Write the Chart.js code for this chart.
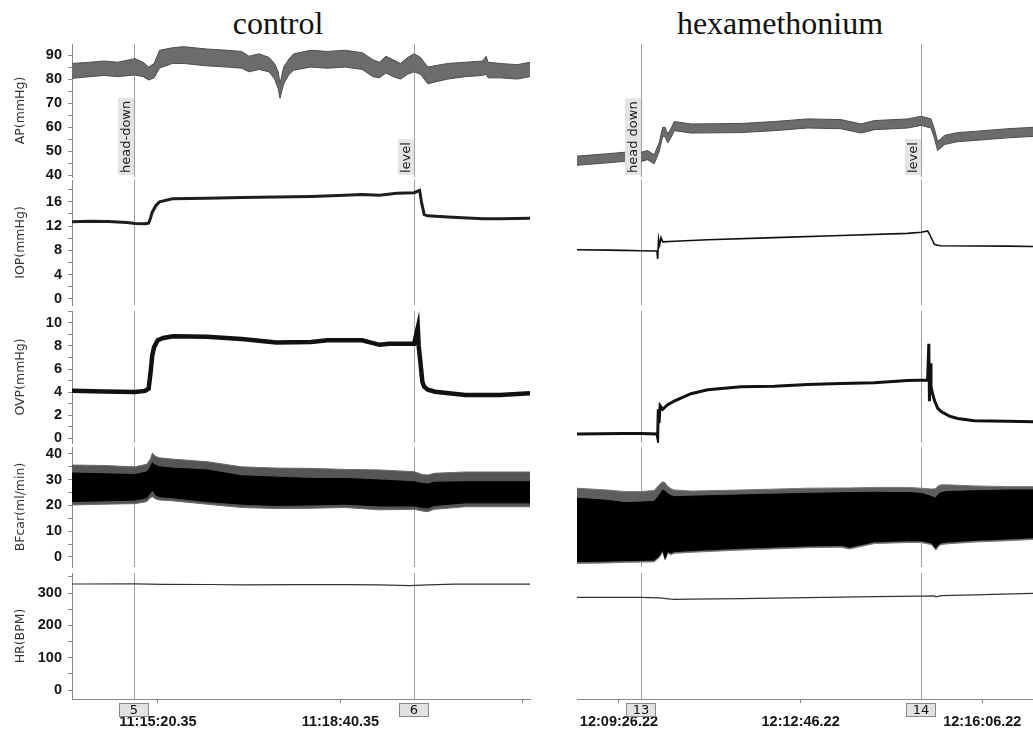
<!DOCTYPE html>
<html>
<head>
<meta charset="utf-8">
<script src="https://cdn.jsdelivr.net/npm/chart.js@4.4.1/dist/chart.umd.min.js"></script>
<style>
  body { margin: 0; background: #fff; width: 1033px; height: 729px; overflow: hidden; position: relative; }
  canvas { position: absolute; }
  .title { position: absolute; top: 7px; font-family: 'Liberation Serif', 'Times New Roman', serif; font-size: 32px; line-height: 32px; color: #111; transform: translateX(-50%); white-space: nowrap; }
</style>
</head>
<body>
<div class="title" style="left:278px">control</div>
<div class="title" style="left:780px">hexamethonium</div>
<script>
// time axis: seconds from the left edge of each panel
const ctrlTicks = [94.2, 294.2, 494.2];
const ctrlTickLabels = ['11:15:20.35', '11:18:40.35', ''];
const hexTicks = [46.2, 246.2, 446.2];
const hexTickLabels = ['12:09:26.22', '12:12:46.22', '12:16:06.22'];

// event markers
const ctrlEvents = [68, 374.8];
const ctrlEventNums = ['5', '6'];
const ctrlEventText = ['head-down', 'level'];
const hexEvents = [70.5, 379];
const hexEventNums = ['13', '14'];
const hexEventText = ['head down', 'level'];

// control: AP band (upper / lower envelope)
const ctrlApT  = [0, 20, 35, 50, 69, 78, 84, 90, 96, 110, 122, 148, 170, 186, 194, 205, 216, 222, 226, 228, 232, 238, 243, 262, 280, 299, 318, 330, 337, 344, 352, 360, 368, 375, 382, 390, 397, 412, 431, 450, 454, 456, 469, 488, 502];
const ctrlApHi = [86.5, 87, 87.5, 87, 88.5, 87, 85, 86.5, 92, 93, 93.5, 92.5, 92, 91.5, 89.5, 90.5, 89, 86.5, 83, 78, 85, 88.5, 90.5, 92, 91.5, 92, 91, 88, 87, 89.5, 88, 86.5, 89, 90.5, 89, 85, 85.5, 86.5, 87, 87.5, 89.5, 87, 86.5, 86, 87];
const ctrlApLo = [80.3, 81, 81.5, 81, 81.7, 81, 79.6, 80.5, 84.6, 86.5, 86.5, 85.5, 85, 84.5, 83, 84, 83, 80, 76, 72, 78, 82, 83.7, 85, 84.5, 85, 84, 81, 80.5, 82.5, 81, 80, 82, 83, 82, 78, 78.7, 80, 81, 81.5, 82, 80.5, 80.5, 80, 81];
// control: IOP
const ctrlIopT = [0, 20, 40, 60, 69, 80, 84, 86, 88, 92, 96, 110, 148, 186, 224, 262, 299, 318, 337, 356, 375, 381, 383, 386, 390, 412, 450, 469, 502];
const ctrlIop  = [12.7, 12.8, 12.75, 12.6, 12.45, 12.4, 12.5, 13.3, 14.3, 15.4, 16.0, 16.5, 16.6, 16.7, 16.8, 16.9, 17.1, 17.2, 17.1, 17.4, 17.5, 17.9, 16, 13.9, 13.7, 13.5, 13.2, 13.2, 13.3];
// control: OVP
const ctrlOvpT = [0, 35, 69, 80, 84, 86, 88, 90, 94, 100, 111, 148, 186, 224, 262, 280, 318, 337, 348, 356, 375, 379, 380, 382, 384, 386, 390, 398, 431, 469, 502];
const ctrlOvp  = [4.1, 4.05, 4.0, 4.1, 4.3, 5.6, 7.2, 7.9, 8.5, 8.7, 8.85, 8.8, 8.6, 8.3, 8.35, 8.5, 8.5, 8.1, 8.2, 8.2, 8.2, 9.6, 8.0, 6.5, 4.9, 4.46, 4.2, 4.03, 3.75, 3.75, 3.9];
// control: BFcar envelopes (outer grey fringe, inner black core)
const ctrlBfT     = [0, 35, 69, 82, 86, 88, 92, 96, 110, 148, 186, 224, 262, 299, 337, 375, 384, 390, 397, 431, 469, 502];
const ctrlBfOutHi = [35.7, 35.5, 35, 36, 38, 40.3, 39, 38.5, 38, 37, 35, 34.5, 34.4, 34, 33.8, 33.1, 32, 31.8, 32.5, 33, 33, 33];
const ctrlBfInHi  = [32.6, 32.3, 32, 33, 35, 36.5, 35.5, 35, 34.5, 33.8, 31.5, 31, 30.5, 30.5, 29.9, 29.2, 28.5, 28.3, 29, 29.2, 29.2, 29.2];
const ctrlBfInLo  = [21.5, 21.8, 22.1, 23, 25, 26, 24, 23.4, 23, 21.5, 20.5, 20, 20.2, 20.5, 19.8, 19.8, 19.2, 19, 20, 21, 21, 21];
const ctrlBfOutLo = [20.2, 20.5, 20.7, 21.5, 23, 23.4, 22.5, 22.1, 21.8, 20.5, 19.2, 18.8, 18.9, 19.2, 18.3, 18.5, 17.8, 17.6, 18.5, 19.5, 19.5, 19.5];
// control: HR
const ctrlHrT = [0, 69, 100, 150, 186, 250, 300, 337, 370, 390, 420, 469, 502];
const ctrlHr  = [328, 328.5, 327, 326.5, 325.5, 326, 326, 325.5, 323, 325, 327.5, 327.5, 327.5];

// hexamethonium: AP band
const hexApT  = [0, 33.8, 52, 70.5, 77.7, 85, 90.6, 94.3, 97, 99.8, 103.4, 107, 125.5, 180.6, 217.3, 254, 290.7, 312.7, 327.3, 364, 379, 389.7, 393.4, 397, 400.8, 404.4, 419, 437.4, 474, 502];
const hexApHi = [47.9, 48.9, 49.5, 49.5, 50.2, 48.5, 53.7, 59.9, 59.9, 57.2, 59.3, 62.3, 61.3, 61.5, 62.3, 63.4, 63.1, 61.3, 62.7, 63.4, 64.5, 63.4, 59.3, 54, 55.2, 56.5, 57.7, 58.2, 59.3, 59.9];
const hexApLo = [44.1, 45.1, 45.7, 45.7, 46.4, 44.7, 49.9, 56.1, 56.1, 53.4, 55.5, 58.5, 57.5, 57.7, 58.5, 59.6, 59.3, 57.5, 58.9, 59.6, 60.7, 59.6, 55.5, 50.2, 51.4, 52.7, 53.9, 54.4, 55.5, 56.1];
// hexamethonium: IOP
const hexIopT = [0, 33.8, 52, 70.5, 86, 88, 88.8, 89.8, 91, 92.5, 94.3, 107, 143.9, 217.3, 290.7, 364, 379, 386, 388, 393.4, 397, 400.8, 474, 502];
const hexIop  = [8.1, 8.05, 8.0, 7.95, 7.9, 7.9, 6.6, 9.9, 8.9, 10.1, 9.4, 9.5, 9.75, 10.1, 10.45, 10.8, 11.0, 11.2, 10.7, 9.0, 8.85, 8.76, 8.7, 8.65];
// hexamethonium: OVP
const hexOvpT = [0, 52, 70.5, 88, 88.8, 89.5, 90.3, 91.5, 94.3, 99.8, 107, 125.5, 143.9, 180.6, 217.3, 254, 290.7, 327.3, 364, 386, 387.3, 388, 388.8, 389.7, 391, 393.4, 397, 400.8, 410, 419, 437.4, 474, 502];
const hexOvp  = [0.35, 0.4, 0.4, 0.35, 0.05, 2.5, 1.3, 2.8, 2.5, 2.9, 3.2, 3.85, 4.2, 4.45, 4.5, 4.65, 4.75, 4.8, 5.0, 5.05, 8.2, 3.2, 6.5, 4.5, 4.0, 3.3, 2.6, 2.3, 1.9, 1.7, 1.5, 1.45, 1.42];
// hexamethonium: BFcar envelopes
const hexBfT     = [0, 33.8, 52, 70.5, 85, 90.6, 94.3, 97, 99.8, 103.4, 107, 125.5, 180.6, 254, 290.7, 300, 327.3, 364, 379, 390, 395.2, 397, 400.8, 408, 437.4, 474, 502];
const hexBfOutHi = [26.7, 26, 25.4, 25.4, 25.8, 28, 29.2, 28.8, 27.5, 26.5, 26, 25.6, 26, 26.7, 26.8, 26.8, 27, 27, 26.7, 26.4, 26.5, 27.5, 28, 28, 27.6, 27.3, 27.3];
const hexBfInHi  = [22.8, 22, 21.1, 21.3, 21.6, 24, 26, 25.5, 24.5, 23.8, 23.4, 23.6, 24.1, 24.7, 24.9, 25, 25.1, 25, 24.7, 23.5, 22.8, 24, 25, 25.4, 25.7, 26, 26];
const hexBfInLo  = [-1.8, -1.6, -1.4, -1.3, -1.2, 0.5, 2.7, -0.5, 2.2, 1.6, 2.1, 2.5, 3.4, 4.3, 4.5, 3.8, 5.9, 6.3, 6.3, 5.5, 3.4, 4.5, 5.5, 5.8, 6.5, 7.0, 7.5];
const hexBfOutLo = [-2.5, -2.3, -2.1, -2.0, -1.9, -0.2, 2.0, -1.2, 1.5, 0.9, 1.4, 1.8, 2.7, 3.6, 3.8, 3.1, 5.2, 5.6, 5.6, 4.8, 2.7, 3.8, 4.8, 5.1, 5.8, 6.3, 6.8];
// hexamethonium: HR
const hexHrT = [0, 70.5, 90.6, 103.4, 107, 125.5, 180.6, 254, 327.3, 379, 393.4, 395.2, 400.8, 437.4, 502];
const hexHr  = [286.7, 286.7, 285, 281, 280.5, 281, 283, 286, 289, 290.5, 291, 288.5, 292, 294.5, 299];

// strip layout (page pixels) and value ranges
const strips = [
  { title: 'AP(mmHg)', top: 44, bottom: 177, min: 39.2, max: 94.6, step: 5, major: 10 },
  { title: 'IOP(mmHg)', top: 180, bottom: 305, min: -1.0, max: 19.6, step: 2, major: 4 },
  { title: 'OVP(mmHg)', top: 311, bottom: 443, min: -0.43, max: 11.04, step: 1, major: 2 },
  { title: 'BFcar(ml/min)', top: 447, bottom: 567, min: -3.9, max: 42.7, step: 5, major: 10 },
  { title: 'HR(BPM)', top: 573, bottom: 699, min: -27.8, max: 362, step: 50, major: 100 }
];
const EXTRA = 8; // room for tick labels that spill past a strip edge

Chart.defaults.font.family = "'DejaVu Sans', Verdana, sans-serif";
Chart.defaults.color = '#111';
Chart.defaults.animation = false;

function pts(ts, vs) { return ts.map((t, i) => ({ x: t, y: vs[i] })); }
function line(data, w, color) {
  return { data, borderColor: color, borderWidth: w, pointRadius: 0, tension: 0, fill: false };
}
function band(hi, lo, fillColor, edge) {
  return [
    { data: hi, borderColor: edge, borderWidth: 1, pointRadius: 0, fill: false },
    { data: lo, borderColor: edge, borderWidth: 1, pointRadius: 0, fill: '-1', backgroundColor: fillColor }
  ];
}

const markers = {
  id: 'markers',
  beforeDatasetsDraw(chart, args, opts) {
    const { ctx, chartArea, scales } = chart;
    ctx.save();
    ctx.strokeStyle = 'rgba(0,0,0,0.38)';
    ctx.lineWidth = 1;
    opts.events.forEach(t => {
      const x = Math.round(scales.x.getPixelForValue(t)) + 0.5;
      ctx.beginPath(); ctx.moveTo(x, chartArea.top); ctx.lineTo(x, chartArea.bottom); ctx.stroke();
    });
    ctx.restore();
  },
  afterDatasetsDraw(chart, args, opts) {
    if (!opts.texts) return;
    const { ctx, chartArea, scales } = chart;
    ctx.save();
    ctx.font = "13px 'DejaVu Sans'";
    opts.events.forEach((t, i) => {
      const x = Math.round(scales.x.getPixelForValue(t));
      const w = ctx.measureText(opts.texts[i]).width;
      const y2 = chartArea.bottom - 2;
      ctx.fillStyle = '#e4e4e4';
      ctx.fillRect(x - 16, y2 - w - 5, 16, w + 5);
      ctx.save();
      ctx.translate(x - 7, y2 - 2);
      ctx.rotate(-Math.PI / 2);
      ctx.fillStyle = '#222';
      ctx.textAlign = 'left';
      ctx.textBaseline = 'middle';
      ctx.fillText(opts.texts[i], 0, 0);
      ctx.restore();
    });
    ctx.restore();
  },
  afterDraw(chart, args, opts) {
    if (!opts.nums) return;
    const { ctx, scales } = chart;
    ctx.save();
    ctx.font = "13px 'DejaVu Sans'";
    opts.events.forEach((t, i) => {
      const x = Math.round(scales.x.getPixelForValue(t));
      const y = scales.x.top + 4;
      ctx.fillStyle = '#e2e2e2';
      ctx.fillRect(x - 15, y, 30, 14);
      ctx.strokeStyle = '#8a8a8a';
      ctx.strokeRect(x - 14.5, y + 0.5, 29, 13);
      ctx.fillStyle = '#111';
      ctx.textAlign = 'center';
      ctx.textBaseline = 'middle';
      ctx.fillText(opts.nums[i], x, y + 7.5);
    });
    ctx.restore();
  }
};

function makeStrip(panel, idx, datasets) {
  const s = strips[idx];
  const isBottom = idx === strips.length - 1;
  const padBottom = isBottom ? 0 : EXTRA;
  const top = s.top - EXTRA;
  const h = (isBottom ? 729 : s.bottom + EXTRA) - top;
  const c = document.createElement('canvas');
  c.width = panel.width; c.height = h;
  c.style.left = panel.left + 'px'; c.style.top = top + 'px';
  c.style.width = panel.width + 'px'; c.style.height = h + 'px';
  document.body.appendChild(c);

  const isMajor = v => Math.abs(v / s.major - Math.round(v / s.major)) < 1e-6;
  new Chart(c, {
    type: 'line',
    data: { datasets },
    plugins: [markers],
    options: {
      responsive: false,
      devicePixelRatio: 1,
      layout: { padding: { left: 0, right: panel.padRight, top: EXTRA, bottom: padBottom } },
      plugins: {
        legend: { display: false },
        tooltip: { enabled: false },
        markers: {
          events: panel.events,
          texts: idx === 0 ? panel.eventText : null,
          nums: isBottom ? panel.eventNums : null
        }
      },
      scales: {
        x: {
          type: 'linear', min: 0, max: 502,
          display: isBottom,
          border: { color: '#8a8a8a' },
          grid: { drawOnChartArea: false, tickLength: 4, color: '#8a8a8a' },
          afterBuildTicks: sc => { sc.ticks = panel.ticks.map(v => ({ value: v })); },
          afterFit: sc => {
            if (!isBottom) return;
            sc.height = 30; sc.paddingLeft = 0; sc.paddingRight = 0;
          },
          ticks: {
            autoSkip: false, maxRotation: 0, padding: 10,
            font: { family: "'Liberation Sans', Arial, sans-serif", size: 14.5, weight: 'bold' }, color: '#151515',
            callback: (v, i) => panel.tickLabels[i]
          }
        },
        y: {
          type: 'linear', min: s.min, max: s.max,
          display: panel.showY,
          border: { color: '#8a8a8a' },
          grid: { drawOnChartArea: false, tickLength: 4, color: '#8a8a8a' },
          afterBuildTicks: sc => {
            const t = [];
            for (let v = Math.ceil(s.min / s.step) * s.step; v <= s.max; v += s.step) t.push({ value: Math.round(v * 100) / 100 });
            sc.ticks = t;
          },
          afterFit: sc => {
            if (!panel.showY) return;
            sc.width = 72; sc.paddingTop = 0; sc.paddingBottom = 0;
          },
          ticks: {
            autoSkip: false, padding: 6,
            font: { family: "'Liberation Sans', Arial, sans-serif", size: 14.5, weight: 'bold' }, color: '#151515',
            callback: v => isMajor(v) ? v : ''
          },
          title: {
            display: true, text: s.title, color: '#333',
            font: { size: 12.5 }, padding: { top: 13, bottom: 0 }
          }
        }
      }
    }
  });
}

const panels = [
  {
    left: 0, width: 540, padRight: 10, showY: true,
    ticks: ctrlTicks, tickLabels: ctrlTickLabels,
    events: ctrlEvents, eventNums: ctrlEventNums, eventText: ctrlEventText,
    sets: [
      band(pts(ctrlApT, ctrlApHi), pts(ctrlApT, ctrlApLo), '#6c6c6c', '#4d4d4d'),
      [line(pts(ctrlIopT, ctrlIop), 3, '#1e1e1e')],
      [line(pts(ctrlOvpT, ctrlOvp), 4.5, '#111')],
      band(pts(ctrlBfT, ctrlBfInHi), pts(ctrlBfT, ctrlBfInLo), '#000', '#000')
        .concat(band(pts(ctrlBfT, ctrlBfOutHi), pts(ctrlBfT, ctrlBfOutLo), '#555', '#6a6a6a')),
      [line(pts(ctrlHrT, ctrlHr), 1.2, '#333')]
    ]
  },
  {
    left: 577, width: 456, padRight: 0, showY: false,
    ticks: hexTicks, tickLabels: hexTickLabels,
    events: hexEvents, eventNums: hexEventNums, eventText: hexEventText,
    sets: [
      band(pts(hexApT, hexApHi), pts(hexApT, hexApLo), '#6c6c6c', '#4d4d4d'),
      [line(pts(hexIopT, hexIop), 1.6, '#111')],
      [line(pts(hexOvpT, hexOvp), 3, '#111')],
      band(pts(hexBfT, hexBfInHi), pts(hexBfT, hexBfInLo), '#000', '#000')
        .concat(band(pts(hexBfT, hexBfOutHi), pts(hexBfT, hexBfOutLo), '#5e5e5e', '#777')),
      [line(pts(hexHrT, hexHr), 1.2, '#333')]
    ]
  }
];

panels.forEach(p => p.sets.forEach((ds, i) => makeStrip(p, i, ds)));
</script>
</body>
</html>
